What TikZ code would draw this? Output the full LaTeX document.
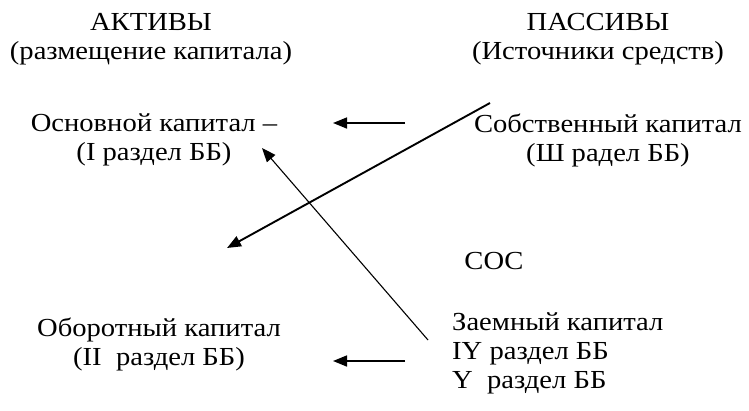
\documentclass[tikz,border=0pt]{standalone}
\usepackage{fontspec}
\setmainfont{Liberation Serif}[FakeStretch=1.1]
\usetikzlibrary{arrows.meta}
\begin{document}
\begin{tikzpicture}[x=1pt,y=-1pt,
  lbl/.style={inner sep=0pt, font=\fontsize{26}{29}\selectfont},
  arr/.style={-{Triangle[length=14pt,width=11pt]}, line width=1.6pt},
  thickarr/.style={-{Triangle[length=14pt,width=11pt]}, line width=1.9pt},
  thinarr/.style={-{Triangle[length=14pt,width=11pt]}, line width=1.1pt}]
\useasboundingbox (0,0) rectangle (749,410);
\node[lbl, align=center] (aktivy) at (151,39) {АКТИВЫ\\(размещение капитала)};
\node[lbl, align=center] (passivy) at (598,39) {ПАССИВЫ\\(Источники средств)};
\node[lbl, align=center] (osn) at (154,140) {Основной капитал –\\(I раздел ББ)};
\node[lbl, align=center] (sobst) at (608,140) {Собственный капитал\\(Ш радел ББ)};
\node[lbl] (sos) at (494,261) {СОС};
\node[lbl, align=center] (oborot) at (159,344) {Оборотный капитал\\(II\ \ раздел ББ)};
\node[lbl, align=left, anchor=west] (zaem) at (452,353) {Заемный капитал\\IY раздел ББ\\Y\ \ раздел ББ};
\coordinate (t1) at (405,123);
\coordinate (t2) at (333,123);
\coordinate (b1) at (405,361);
\coordinate (b2) at (333,361);
\coordinate (d1) at (490,103);
\coordinate (d2) at (227,248);
\coordinate (e1) at (428,340);
\coordinate (e2) at (262,148);
\draw[arr] (t1) -- (t2);
\draw[arr] (b1) -- (b2);
\draw[thickarr] (d1) -- (d2);
\draw[thinarr] (e1) -- (e2);
\end{tikzpicture}
\end{document}
